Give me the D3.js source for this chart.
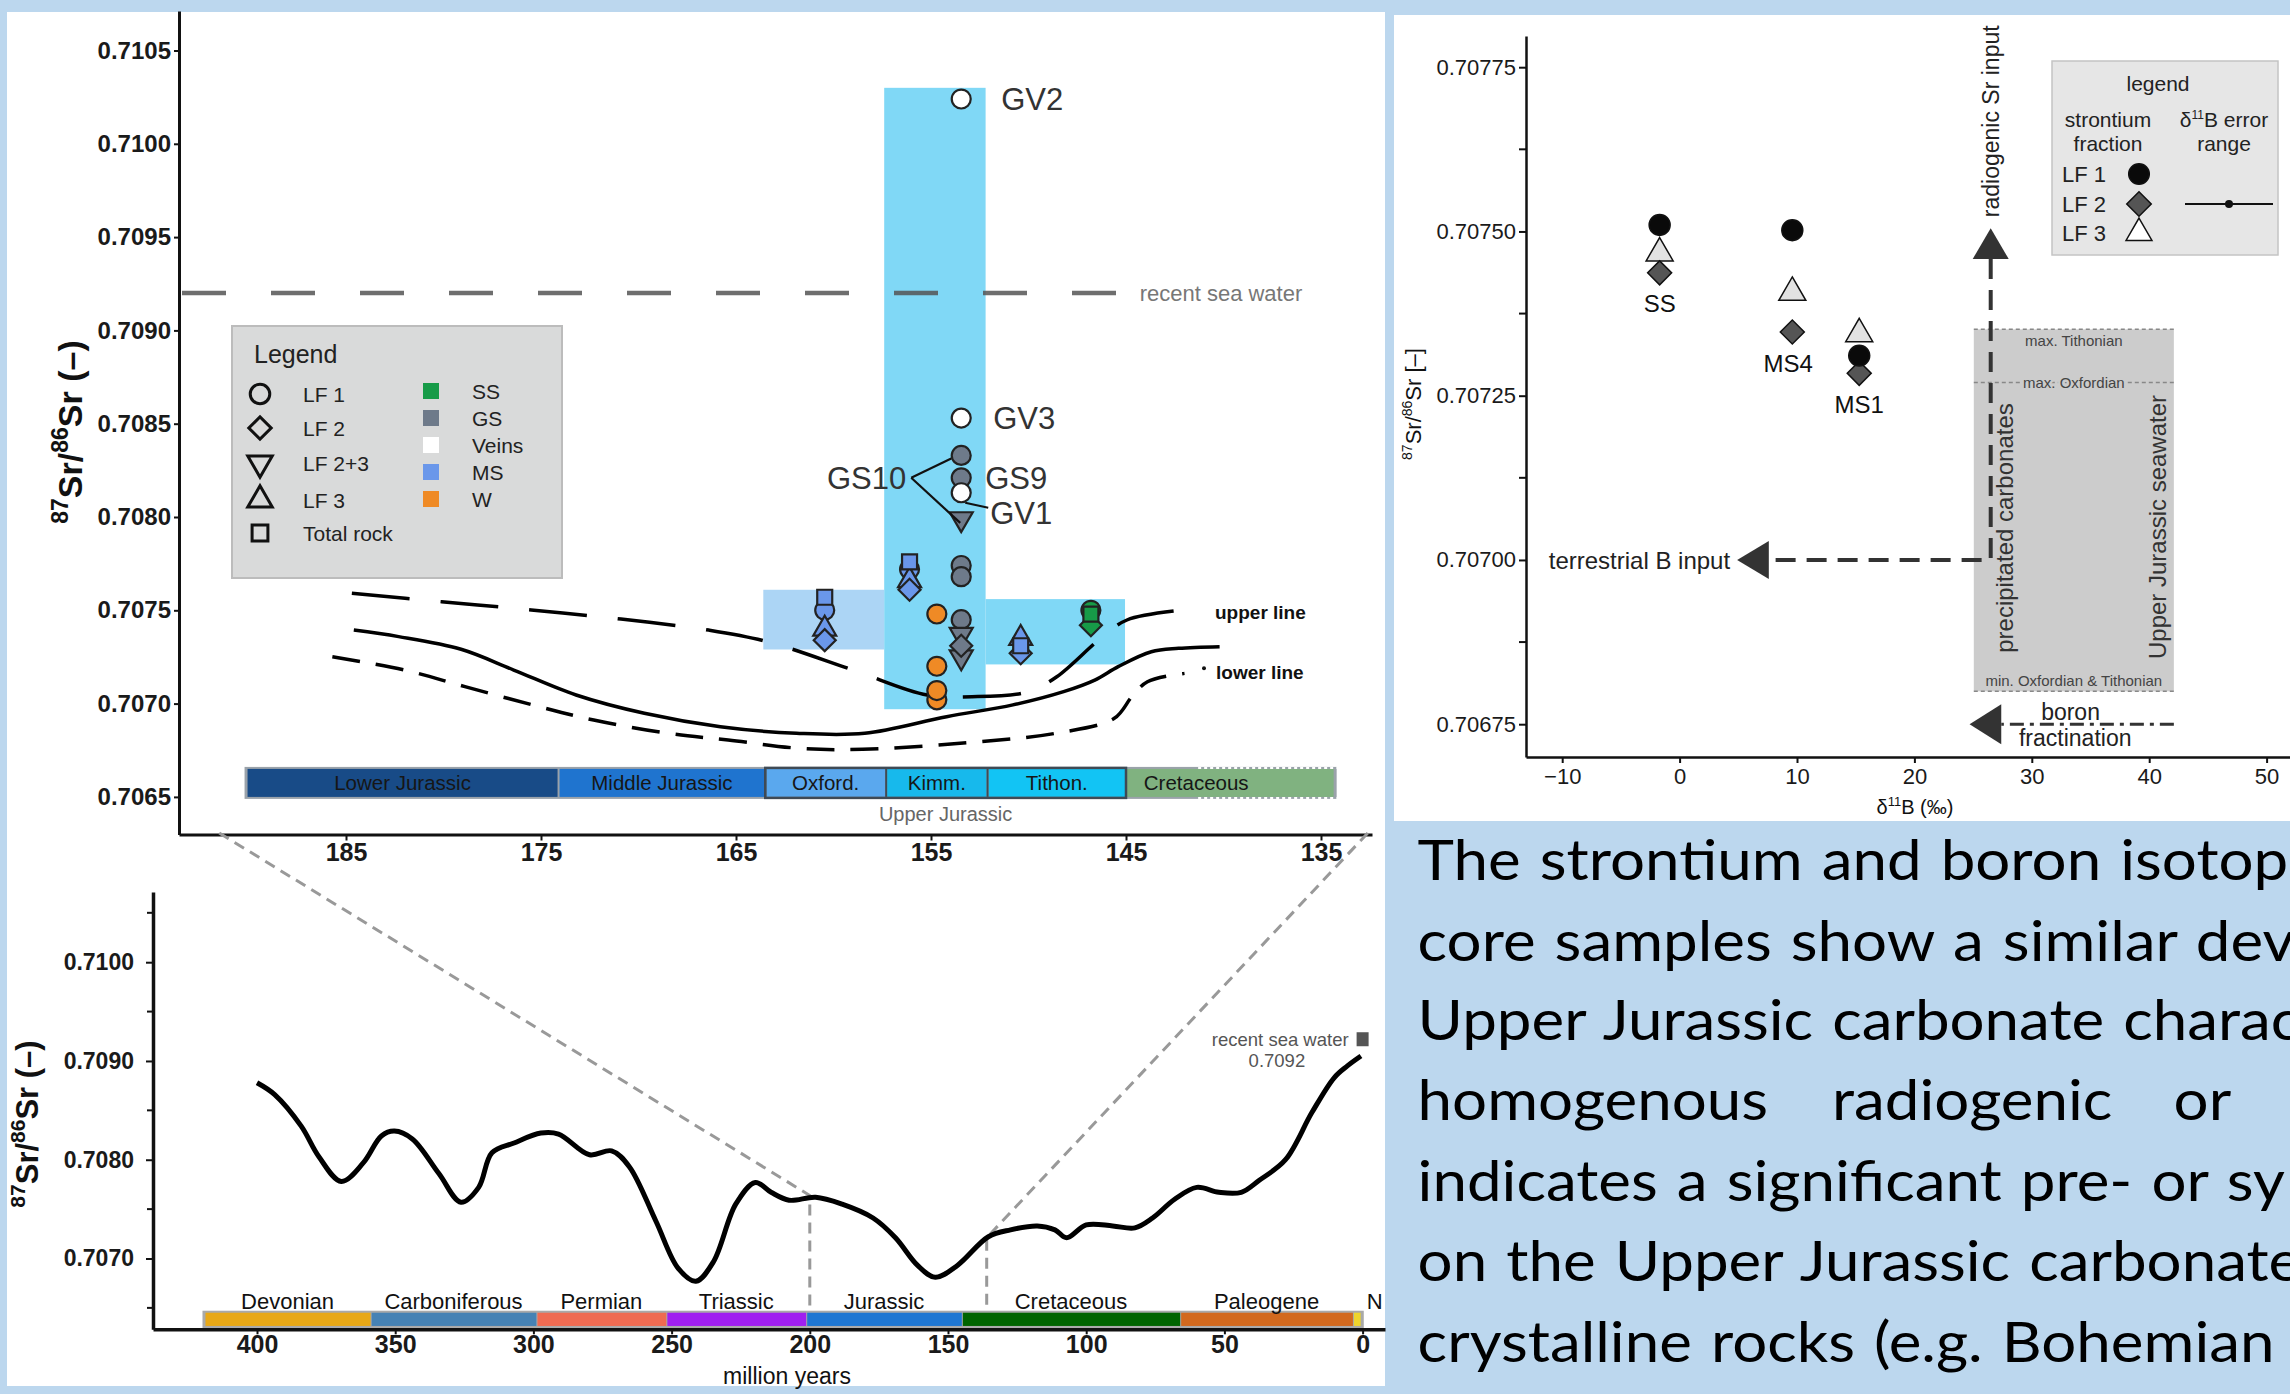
<!DOCTYPE html>
<html>
<head>
<meta charset="utf-8">
<script src="https://cdn.jsdelivr.net/npm/d3@7"></script>
<style>
  body { margin: 0; background: #bcd7ee; }
  svg text { font-family: "Liberation Sans", Arial, Helvetica, sans-serif; }
</style>
</head>
<body>
<script>
// ---------- data: top-left panel (Upper Jurassic samples) ----------
var rockTypes  = ["SS", "GS", "Veins", "MS", "W"];
var rockColors = ["#179b48", "#6e7a8a", "#ffffff", "#6a97ea", "#ef8a25"];
var fractions  = ["LF 1", "LF 2", "LF 2+3", "LF 3", "Total rock"];
var fracShapes = ["circle", "diamond", "down", "up", "square"];

var topSamples = [
  {age: 153.45, sr: 0.71024, rock: "Veins", frac: "LF 1"},
  {age: 153.45, sr: 0.70853, rock: "Veins", frac: "LF 1"},
  {age: 153.45, sr: 0.70833, rock: "GS", frac: "LF 1"},
  {age: 153.45, sr: 0.70821, rock: "GS", frac: "LF 1"},
  {age: 153.45, sr: 0.70813, rock: "Veins", frac: "LF 1"},
  {age: 153.45, sr: 0.70799, rock: "GS", frac: "LF 2+3"},
  {age: 153.45, sr: 0.70774, rock: "GS", frac: "LF 1"},
  {age: 153.45, sr: 0.70768, rock: "GS", frac: "LF 1"},
  {age: 153.45, sr: 0.70731, rock: "GS", frac: "LF 2"},
  {age: 153.45, sr: 0.70745, rock: "GS", frac: "LF 1"},
  {age: 153.45, sr: 0.70737, rock: "GS", frac: "LF 2+3"},
  {age: 153.45, sr: 0.70725, rock: "GS", frac: "LF 2+3"},
  {age: 154.7, sr: 0.70748, rock: "W", frac: "LF 1"},
  {age: 154.7, sr: 0.70720, rock: "W", frac: "LF 1"},
  {age: 154.7, sr: 0.70702, rock: "W", frac: "LF 1"},
  {age: 154.7, sr: 0.70707, rock: "W", frac: "LF 1"},
  {age: 156.1, sr: 0.70772, rock: "MS", frac: "LF 1"},
  {age: 156.1, sr: 0.70761, rock: "MS", frac: "LF 2"},
  {age: 156.1, sr: 0.70766, rock: "MS", frac: "LF 3"},
  {age: 156.1, sr: 0.70776, rock: "MS", frac: "Total rock"},
  {age: 160.45, sr: 0.70750, rock: "MS", frac: "LF 1"},
  {age: 160.45, sr: 0.70734, rock: "MS", frac: "LF 2"},
  {age: 160.45, sr: 0.70740, rock: "MS", frac: "LF 3"},
  {age: 160.45, sr: 0.70757, rock: "MS", frac: "Total rock"},
  {age: 150.4, sr: 0.70727, rock: "MS", frac: "LF 2"},
  {age: 150.4, sr: 0.70735, rock: "MS", frac: "LF 3"},
  {age: 150.4, sr: 0.70731, rock: "MS", frac: "Total rock"},
  {age: 146.8, sr: 0.70750, rock: "SS", frac: "LF 1"},
  {age: 146.8, sr: 0.70742, rock: "SS", frac: "LF 2"},
  {age: 146.8, sr: 0.70748, rock: "SS", frac: "Total rock"}
];

// stage boxes behind the samples (age range, Sr range)
var stageBoxes = [
  {from: 163.6, to: 157.4, lo: 0.70729, hi: 0.70761, color: "#acd5f5"},
  {from: 157.4, to: 152.2, lo: 0.70697, hi: 0.71030, color: "#80d8f6"},
  {from: 152.2, to: 145.05, lo: 0.70721, hi: 0.70756, color: "#80d8f6"}
];

var upperLine = [[184.7,0.707591],[180.1,0.707546],[175.5,0.707502],[170.9,0.707453],[166.4,0.707394],[163.4,0.707332],
  [159.0,0.707180],[155.2,0.707046],[152.9,0.707037],[150.0,0.707064],[148.55,0.707144],[146.3,0.707350],[144.95,0.707448],[142.0,0.707502]];
var middleLine = [[184.6,0.707394],[182.3,0.707359],[179.1,0.707291],[176.4,0.707180],[173.2,0.707046],[169.7,0.706948],
  [165.8,0.706876],[161.9,0.706841],[158.4,0.706841],[154.2,0.706930],[150.8,0.706993],[148.2,0.707064],[146.6,0.707126],
  [145.4,0.707198],[143.7,0.707278],[142.3,0.707296],[140.2,0.707305]];
var lowerLine = [[185.7,0.707251],[182.0,0.707180],[178.9,0.707091],[175.4,0.706992],[172.3,0.706912],[168.5,0.706841],
  [165.4,0.706805],[161.7,0.706760],[158.5,0.706755],[152.5,0.706796],[148.6,0.706841],[145.6,0.706921],[144.7,0.707037],
  [143.9,0.707117],[142.0,0.707162]];

var topStages = [
  {from: 190.1, to: 174.1, name: "Lower Jurassic", color: "#184b87"},
  {from: 174.1, to: 163.5, name: "Middle Jurassic", color: "#1f74cf"},
  {from: 163.5, to: 157.3, name: "Oxford.", color: "#5aa8ee"},
  {from: 157.3, to: 152.1, name: "Kimm.", color: "#17b9ec"},
  {from: 152.1, to: 145.0, name: "Tithon.", color: "#12c4f4"},
  {from: 145.0, to: 134.3, name: "Cretaceous", color: "#80b280"}
];
var topYTicks = [0.7065, 0.7070, 0.7075, 0.7080, 0.7085, 0.7090, 0.7095, 0.7100, 0.7105];
var topXTicks = [185, 175, 165, 155, 145, 135];
var seaWaterSr = 0.7092;

// ---------- data: bottom-left panel (Phanerozoic seawater curve) ----------
var srCurve = [[400,0.70878],[393.6,0.70866],[384,0.70834],[377.6,0.70803],[369.5,0.70778],[361.5,0.70797],[355,0.70824],
  [350.3,0.70829],[343.8,0.70821],[334.2,0.70786],[326.2,0.70757],[319.8,0.70772],[315,0.70807],[307,0.70817],[297.3,0.70827],
  [290.9,0.70826],[279.7,0.70805],[271.7,0.70809],[265.3,0.70793],[255.7,0.70738],[247.6,0.70690],[241.2,0.70677],
  [234.8,0.70697],[226.8,0.70755],[219.7,0.70777],[214,0.70767],[207.5,0.70759],[197.9,0.70762],[188.3,0.70755],
  [177.1,0.70741],[169,0.70721],[161,0.70693],[154.6,0.70681],[146.6,0.70693],[135.4,0.70722],[127.4,0.70729],
  [117.7,0.70733],[111.3,0.70729],[107.1,0.70721],[100,0.70734],[90.4,0.70733],[82.4,0.70731],[76,0.70741],[68,0.70760],
  [60,0.70772],[52,0.70767],[43.9,0.70767],[37.5,0.70779],[27.9,0.70800],[18.3,0.70848],[10.3,0.70883],[5.5,0.70895],[0.6,0.70905]];
var periods = [
  {from: 419, to: 358.9, name: "Devonian", color: "#e8a817"},
  {from: 358.9, to: 298.9, name: "Carboniferous", color: "#4682b4"},
  {from: 298.9, to: 251.9, name: "Permian", color: "#ef6b52"},
  {from: 251.9, to: 201.3, name: "Triassic", color: "#a020f0"},
  {from: 201.3, to: 145, name: "Jurassic", color: "#1e76d2"},
  {from: 145, to: 66, name: "Cretaceous", color: "#006400"},
  {from: 66, to: 3.5, name: "Paleogene", color: "#d2691e"},
  {from: 3.5, to: 0.7, name: "N", color: "#eed42c"}
];
var bottomYTicks = [0.7070, 0.7080, 0.7090, 0.7100];
var bottomYMinor = [0.7065, 0.7075, 0.7085, 0.7095, 0.7105];
var bottomXTicks = [400, 350, 300, 250, 200, 150, 100, 50, 0];
var zoomAnchors = [{age: 200, sr: 0.707638, topAge: 191.5}, {age: 136, sr: 0.70721, topAge: 132.6}];

// ---------- data: right panel (d11B vs Sr) ----------
var sampleNames = ["SS", "MS4", "MS1"];
var sampleB     = [-1.7, 9.6, 15.3];
var srLF1       = [0.707510, 0.707502, 0.707311];
var srLF2       = [0.707437, 0.707347, 0.707284];
var srLF3       = [0.707467, 0.707407, 0.707344];
var rightYTicks = [0.70675, 0.70700, 0.70725, 0.70750, 0.70775];
var rightYMinor = [0.706875, 0.707125, 0.707375, 0.707625];
var rightXTicks = [-10, 0, 10, 20, 30, 40, 50];
var seawaterBox = {b0: 25.06, b1: 42.1, lo: 0.70680, hi: 0.707351, oxf: 0.70727};
var arrowSr = {b: 26.5, from: 0.70700, to: 0.707458, tip: 0.707505};
var arrowB  = {sr: 0.70700, from: 26.5, to: 7.6, tip: 4.9};
var arrowBoron = {sr: 0.70675, from: 42.1, to: 27.4, tip: 24.7};

// visible part of the note text (it runs past the right edge)
var noteLines = [
  "The strontium and boron isotop",
  "core samples show a similar dev",
  "Upper Jurassic carbonate charac",
  ["homogenous", "radiogenic", "or"],
  "indicates a significant pre- or sy",
  "on the Upper Jurassic carbonate",
  "crystalline rocks (e.g. Bohemian"
];

// ---------- page ----------
var W = 2290, H = 1394;
var svg = d3.select("body").append("svg").attr("width", W).attr("height", H);
svg.append("rect").attr("width", W).attr("height", H).attr("fill", "#bcd7ee");
svg.append("rect").attr("x", 7).attr("y", 12).attr("width", 1378).attr("height", 1374).attr("fill", "#fff");
svg.append("rect").attr("x", 1394).attr("y", 15).attr("width", 896).attr("height", 806).attr("fill", "#fff");

var shapeOf = function(f) { return fracShapes[fractions.indexOf(f)]; };
var colorOf = function(r) { return rockColors[rockTypes.indexOf(r)]; };

function symPath(shape, size) {
  var type = {circle: d3.symbolCircle, square: d3.symbolSquare, up: d3.symbolTriangle,
              down: d3.symbolTriangle, diamond: d3.symbolSquare}[shape];
  return d3.symbol().type(type).size(size)();
}
function symRot(shape) {
  return shape === "down" ? " rotate(180)" : shape === "diamond" ? " rotate(45)" : "";
}

function srTitle(x, y, size, weight, tail, supRatio) {
  var t = svg.append("text").attr("transform", "translate(" + x + "," + y + ") rotate(-90)")
    .attr("text-anchor", "middle").style("font-size", size + "px").style("font-weight", weight).attr("fill", "#111");
  var s = Math.round(size * supRatio), up = size * 0.42;
  t.append("tspan").text("87").style("font-size", s + "px").attr("dy", -up);
  t.append("tspan").text("Sr/").attr("dy", up);
  t.append("tspan").text("86").style("font-size", s + "px").attr("dy", -up);
  t.append("tspan").text("Sr" + tail).attr("dy", up);
}

function styleAxis(g, width, font, weight) {
  g.select(".domain").attr("stroke", "#111").attr("stroke-width", width);
  g.selectAll(".tick line").attr("stroke", "#111").attr("stroke-width", 2);
  g.selectAll(".tick text").attr("fill", "#1a1a1a").style("font-size", font + "px").style("font-weight", weight);
}

// =================== TOP-LEFT PANEL ===================
var xT = d3.scaleLinear().domain([185, 135]).range([346, 1321]);
xT.domain([xT.invert(179), xT.invert(1372)]).range([179, 1372]);
var yT = d3.scaleLinear().domain([0.7065, 0.7105]).range([796.9, 50.5]);
yT.domain([yT.invert(834.5), yT.invert(11)]).range([834.5, 11]);

var gTop = svg.append("g");

gTop.selectAll(".stagebox").data(stageBoxes).enter().append("rect")
  .attr("x", function(d) { return xT(d.from); })
  .attr("width", function(d) { return xT(d.to) - xT(d.from); })
  .attr("y", function(d) { return yT(d.hi); })
  .attr("height", function(d) { return yT(d.lo) - yT(d.hi); })
  .attr("fill", function(d) { return d.color; });

// stratigraphic bar
var barTop = yT(0.70665), barBot = yT(0.7065);
gTop.append("rect").attr("x", xT(190.1) - 2).attr("y", barTop - 2)
  .attr("width", xT(134.3) - xT(190.1) + 4).attr("height", barBot - barTop + 4).attr("fill", "#9aa2aa");
gTop.selectAll(".stage").data(topStages).enter().append("rect")
  .attr("x", function(d) { return xT(d.from) + 1; })
  .attr("width", function(d) { return xT(d.to) - xT(d.from) - 2; })
  .attr("y", barTop).attr("height", barBot - barTop)
  .attr("fill", function(d) { return d.color; });
gTop.append("rect").attr("x", xT(163.5)).attr("y", barTop - 1)
  .attr("width", xT(145) - xT(163.5)).attr("height", barBot - barTop + 2)
  .attr("fill", "none").attr("stroke", "#3f4a55").attr("stroke-width", 2.5);
gTop.selectAll(".stagegap").data([163.5, 157.3, 152.1, 145]).enter().append("line")
  .attr("x1", function(d) { return xT(d); }).attr("x2", function(d) { return xT(d); })
  .attr("y1", barTop).attr("y2", barBot).attr("stroke", "#3f4a55").attr("stroke-width", 2);
gTop.selectAll(".dotedge").data([barTop - 1, barBot + 1]).enter().append("line")
  .attr("x1", xT(141.3)).attr("x2", xT(134.3) + 2).attr("y1", function(d) { return d; }).attr("y2", function(d) { return d; })
  .attr("stroke", "#fff").attr("stroke-width", 2).attr("stroke-dasharray", "3,3");
gTop.selectAll(".stagelabel").data(topStages).enter().append("text")
  .attr("x", function(d) { return d.name === "Cretaceous" ? xT(141.4) : xT((d.from + d.to) / 2); })
  .attr("y", (barTop + barBot) / 2).attr("dy", "0.36em").attr("text-anchor", "middle")
  .style("font-size", "20.5px").attr("fill", "#161616")
  .text(function(d) { return d.name; });
gTop.append("text").attr("x", xT(154.25)).attr("y", barBot + 17).attr("dy", "0.36em").attr("text-anchor", "middle")
  .style("font-size", "20px").attr("fill", "#666").text("Upper Jurassic");

// recent sea water line
gTop.append("line").attr("x1", xT.range()[0] + 3).attr("x2", xT(144.9))
  .attr("y1", yT(seaWaterSr)).attr("y2", yT(seaWaterSr))
  .attr("stroke", "#555").attr("stroke-opacity", 0.85).attr("stroke-width", 4.5).attr("stroke-dasharray", "44,45");
gTop.append("text").attr("x", xT(144.3)).attr("y", yT(seaWaterSr)).attr("dy", "0.36em")
  .style("font-size", "22px").attr("fill", "#777").text("recent sea water");

// trend lines
var lineT = d3.line().x(function(d) { return xT(d[0]); }).y(function(d) { return yT(d[1]); })
  .curve(d3.curveCatmullRom.alpha(0.5));
gTop.append("path").attr("d", lineT(upperLine)).attr("fill", "none").attr("stroke", "#000")
  .attr("stroke-width", 3.5).attr("stroke-dasharray", "58,31");
gTop.append("path").attr("d", lineT(middleLine)).attr("fill", "none").attr("stroke", "#000").attr("stroke-width", 3.5);
gTop.append("path").attr("d", lineT(lowerLine)).attr("fill", "none").attr("stroke", "#000")
  .attr("stroke-width", 3.5).attr("stroke-dasharray", "28,16");
gTop.append("text").attr("x", 1215).attr("y", yT(0.70749)).attr("dy", "0.36em")
  .style("font-size", "19px").style("font-weight", "bold").attr("fill", "#111").text("upper line");
gTop.append("circle").attr("cx", 1204).attr("cy", yT(0.70719)).attr("r", 2).attr("fill", "#111");
gTop.append("text").attr("x", 1216).attr("y", yT(0.70717)).attr("dy", "0.36em")
  .style("font-size", "19px").style("font-weight", "bold").attr("fill", "#111").text("lower line");

// legend
var lg = gTop.append("g");
lg.append("rect").attr("x", 232).attr("y", 326).attr("width", 330).attr("height", 252)
  .attr("fill", "#d9dada").attr("stroke", "#bcbcbc").attr("stroke-width", 2);
lg.append("text").attr("x", 254).attr("y", 363).style("font-size", "25px").attr("fill", "#222").text("Legend");
var fracRows = [394, 428, 463, 500, 533];
fractions.forEach(function(f, i) {
  var s = fracShapes[i];
  lg.append("path").attr("d", symPath(s, s === "square" ? 250 : s === "circle" ? 300 : s === "diamond" ? 250 : 260))
    .attr("transform", "translate(260," + fracRows[i] + ")" + symRot(s))
    .attr("fill", "none").attr("stroke", "#111").attr("stroke-width", 3);
  lg.append("text").attr("x", 303).attr("y", fracRows[i]).attr("dy", "0.36em")
    .style("font-size", "21px").attr("fill", "#222").text(f);
});
var rockRows = [391, 418, 445, 472, 499];
rockTypes.forEach(function(r, i) {
  lg.append("rect").attr("x", 423).attr("y", rockRows[i] - 8).attr("width", 16).attr("height", 16)
    .attr("fill", rockColors[i]);
  lg.append("text").attr("x", 472).attr("y", rockRows[i]).attr("dy", "0.36em")
    .style("font-size", "21px").attr("fill", "#222").text(r);
});

// axes
var gyT = gTop.append("g").attr("transform", "translate(179,0)")
  .call(d3.axisLeft(yT).tickValues(topYTicks).tickFormat(d3.format(".4f")).tickSize(5).tickSizeOuter(0).tickPadding(3));
styleAxis(gyT, 3, 24, "bold");
var gxT = gTop.append("g").attr("transform", "translate(0,834.5)")
  .call(d3.axisBottom(xT).tickValues(topXTicks).tickFormat(d3.format("d")).tickSize(6).tickSizeOuter(0).tickPadding(3));
styleAxis(gxT, 3, 25, "bold");
srTitle(82, 432, 34, "bold", " (\u2013)", 0.68);

// samples
var order = {"circle": 0, "up": 1, "down": 2, "diamond": 3, "square": 4};
var topSorted = topSamples.slice().sort(function(a, b) { return order[shapeOf(a.frac)] - order[shapeOf(b.frac)]; });
gTop.selectAll(".sample").data(topSorted).enter().append("path")
  .attr("d", function(d) {
    var s = shapeOf(d.frac);
    return symPath(s, s === "circle" ? 283 : s === "square" ? 225 : s === "diamond" ? 242 : 229);
  })
  .attr("transform", function(d) { return "translate(" + xT(d.age) + "," + yT(d.sr) + ")" + symRot(shapeOf(d.frac)); })
  .attr("fill", function(d) { return colorOf(d.rock); })
  .attr("stroke", "#222").attr("stroke-width", 2.2);

// sample labels
var gx = xT(153.45);
var labStyle = function(t) { return t.style("font-size", "31px").attr("fill", "#333"); };
labStyle(gTop.append("text").attr("x", gx + 40).attr("y", yT(0.71024)).attr("dy", "0.36em").text("GV2"));
labStyle(gTop.append("text").attr("x", gx + 32).attr("y", yT(0.70853)).attr("dy", "0.36em").text("GV3"));
labStyle(gTop.append("text").attr("x", gx + 24).attr("y", yT(0.70821)).attr("dy", "0.36em").text("GS9"));
labStyle(gTop.append("text").attr("x", gx + 29).attr("y", yT(0.70813) + 20).attr("dy", "0.36em").text("GV1"));
labStyle(gTop.append("text").attr("x", gx - 55).attr("y", yT(0.70821)).attr("dy", "0.36em").attr("text-anchor", "end").text("GS10"));
var leaders = [
  [[gx - 50, yT(0.70821)], [gx - 10, yT(0.70833) + 3]],
  [[gx - 50, yT(0.70821)], [gx - 1, yT(0.70799) + 4]],
  [[gx + 4, yT(0.70813) + 10], [gx + 27, yT(0.70813) + 15]]
];
gTop.selectAll(".leader").data(leaders).enter().append("path")
  .attr("d", function(d) { return d3.line()(d); }).attr("fill", "none").attr("stroke", "#111").attr("stroke-width", 2.2);

// =================== BOTTOM-LEFT PANEL ===================
var xB = d3.scaleLinear().domain([400, 0]).range([257, 1362.6]);
xB.domain([xB.invert(153), xB.invert(1385)]).range([153, 1385]);
var yB = d3.scaleLinear().domain([0.7070, 0.7100]).range([1258.5, 962.2]);
yB.domain([yB.invert(1329.3), yB.invert(892)]).range([1329.3, 892]);

var gBot = svg.append("g");

// zoom connector lines
zoomAnchors.forEach(function(a) {
  gBot.append("path")
    .attr("d", d3.line()([[xT(a.topAge), 833], [xB(a.age), yB(a.sr)], [xB(a.age), yB(0.706451)]]))
    .attr("fill", "none").attr("stroke", "#999").attr("stroke-width", 3).attr("stroke-dasharray", "11,7");
});

// period bar
var pTop = yB(0.706451), pBot = yB(0.706317);
gBot.append("rect").attr("x", xB(419) - 2).attr("y", pTop - 2).attr("width", xB(0.3) - xB(419) + 4)
  .attr("height", pBot - pTop + 4).attr("fill", "#a9a9a9");
gBot.selectAll(".period").data(periods).enter().append("rect")
  .attr("x", function(d) { return xB(d.from) + 1; })
  .attr("width", function(d) { return xB(d.to) - xB(d.from) - 1; })
  .attr("y", pTop).attr("height", pBot - pTop)
  .attr("fill", function(d) { return d.color; });
gBot.selectAll(".plabel").data(periods).enter().append("text")
  .attr("x", function(d) { return d.name === "N" ? xB(d.to) + 6 : xB((d.from + d.to) / 2); })
  .attr("y", pTop - 4).attr("text-anchor", function(d) { return d.name === "N" ? "start" : "middle"; })
  .style("font-size", "22px").attr("fill", "#111")
  .text(function(d) { return d.name; });

var lineB = d3.line().x(function(d) { return xB(d[0]); }).y(function(d) { return yB(d[1]); })
  .curve(d3.curveCatmullRom.alpha(0.5));
gBot.append("path").attr("d", lineB(srCurve)).attr("fill", "none").attr("stroke", "#000")
  .attr("stroke-width", 5).attr("stroke-linejoin", "round");

// recent sea water marker
gBot.append("rect").attr("x", xB(0) - 6).attr("y", yB(0.70922) - 7).attr("width", 12).attr("height", 14).attr("fill", "#555");
gBot.append("text").attr("x", xB(0) - 14).attr("y", yB(0.70922)).attr("dy", "0.36em").attr("text-anchor", "end")
  .style("font-size", "18.5px").attr("fill", "#555").text("recent sea water");
gBot.append("text").attr("x", xB(31)).attr("y", yB(0.70901)).attr("dy", "0.36em").attr("text-anchor", "middle")
  .style("font-size", "18.5px").attr("fill", "#555").text("0.7092");

var gyB = gBot.append("g").attr("transform", "translate(153,0)")
  .call(d3.axisLeft(yB).tickValues(bottomYTicks).tickFormat(d3.format(".4f")).tickSize(7).tickSizeOuter(0).tickPadding(12));
styleAxis(gyB, 3.5, 23, "bold");
gBot.selectAll(".minor").data(bottomYMinor).enter().append("line")
  .attr("x1", 147).attr("x2", 153).attr("y1", function(d) { return yB(d); }).attr("y2", function(d) { return yB(d); })
  .attr("stroke", "#111").attr("stroke-width", 2);
var gxB = gBot.append("g").attr("transform", "translate(0,1329.3)")
  .call(d3.axisBottom(xB).tickValues(bottomXTicks).tickFormat(d3.format("d")).tickSize(5).tickSizeOuter(0).tickPadding(1));
styleAxis(gxB, 3.5, 25, "bold");
gBot.append("text").attr("x", 787).attr("y", 1376).attr("dy", "0.36em").attr("text-anchor", "middle")
  .style("font-size", "23px").attr("fill", "#111").text("million years");
srTitle(38, 1124, 31, "bold", " (\u2013)", 0.68);

// =================== RIGHT PANEL ===================
var xR = d3.scaleLinear().domain([-10, 50]).range([1562.2, 2266.6]);
xR.domain([xR.invert(1526), xR.invert(2300)]).range([1526, 2300]);
var yR = d3.scaleLinear().domain([0.70675, 0.70775]).range([724.2, 67.2]);
yR.domain([yR.invert(757), yR.invert(36)]).range([757, 36]);

var rp = svg.append("g");

// Upper Jurassic seawater box
rp.append("rect").attr("x", xR(seawaterBox.b0)).attr("y", yR(seawaterBox.hi))
  .attr("width", xR(seawaterBox.b1) - xR(seawaterBox.b0)).attr("height", yR(seawaterBox.lo) - yR(seawaterBox.hi))
  .attr("fill", "#cccccc");
rp.selectAll(".boxline").data([seawaterBox.hi, seawaterBox.oxf, seawaterBox.lo]).enter().append("line")
  .attr("x1", xR(seawaterBox.b0)).attr("x2", xR(seawaterBox.b1))
  .attr("y1", function(d) { return yR(d); }).attr("y2", function(d) { return yR(d); })
  .attr("stroke", "#888").attr("stroke-width", 1.5).attr("stroke-dasharray", "4,3");
var boxMid = (seawaterBox.b0 + seawaterBox.b1) / 2;
[["max. Tithonian", yR(seawaterBox.hi) + 11], ["max. Oxfordian", yR(seawaterBox.oxf)], ["min. Oxfordian & Tithonian", yR(seawaterBox.lo) - 11]]
  .forEach(function(t) {
    rp.append("text").attr("x", xR(boxMid)).attr("y", t[1]).attr("dy", "0.36em").attr("text-anchor", "middle")
      .style("font-size", "15px").attr("fill", "#444")
      .attr("stroke", "#cccccc").attr("stroke-width", 5).attr("paint-order", "stroke").text(t[0]);
  });
rp.append("text").attr("transform", "translate(2013,528) rotate(-90)").attr("text-anchor", "middle")
  .style("font-size", "24px").attr("fill", "#333").text("precipitated carbonates");
rp.append("text").attr("transform", "translate(2166,527) rotate(-90)").attr("text-anchor", "middle")
  .style("font-size", "24px").attr("fill", "#333").text("Upper Jurassic seawater");

// arrows
var dark = "#333";
rp.append("path").attr("d", d3.line()([[xR(arrowSr.b), yR(arrowSr.to)], [xR(arrowSr.b), yR(arrowSr.from)], [xR(arrowB.to), yR(arrowB.sr)]]))
  .attr("fill", "none").attr("stroke", dark).attr("stroke-width", 4).attr("stroke-dasharray", "20,11");
rp.append("path").attr("d", d3.line()([[xR(arrowSr.b), yR(arrowSr.tip)], [xR(arrowSr.b) - 18, yR(arrowSr.to)], [xR(arrowSr.b) + 18, yR(arrowSr.to)]]) + "Z")
  .attr("fill", dark);
rp.append("path").attr("d", d3.line()([[xR(arrowB.tip), yR(arrowB.sr)], [xR(arrowB.to), yR(arrowB.sr) - 19], [xR(arrowB.to), yR(arrowB.sr) + 19]]) + "Z")
  .attr("fill", dark);
rp.append("path").attr("d", d3.line()([[xR(arrowBoron.from), yR(arrowBoron.sr)], [xR(arrowBoron.to), yR(arrowBoron.sr)]]))
  .attr("stroke", dark).attr("stroke-width", 3).attr("stroke-dasharray", "14,6,4,6");
rp.append("path").attr("d", d3.line()([[xR(arrowBoron.tip), yR(arrowBoron.sr)], [xR(arrowBoron.to), yR(arrowBoron.sr) - 20], [xR(arrowBoron.to), yR(arrowBoron.sr) + 20]]) + "Z")
  .attr("fill", dark);
rp.append("text").attr("transform", "translate(" + (xR(arrowSr.b) + 8) + "," + (yR(arrowSr.tip) - 11) + ") rotate(-90)")
  .style("font-size", "23px").attr("fill", "#222").text("radiogenic Sr input");
rp.append("text").attr("x", xR(arrowB.tip) - 7).attr("y", yR(arrowB.sr)).attr("dy", "0.36em").attr("text-anchor", "end")
  .style("font-size", "24px").attr("fill", "#222").text("terrestrial B input");
rp.append("text").attr("x", xR(33.3)).attr("y", yR(arrowBoron.sr) - 12).attr("dy", "0.36em").attr("text-anchor", "middle")
  .style("font-size", "23px").attr("fill", "#222").text("boron");
rp.append("text").attr("x", xR(33.7)).attr("y", yR(arrowBoron.sr) + 14).attr("dy", "0.36em").attr("text-anchor", "middle")
  .style("font-size", "23px").attr("fill", "#222").text("fractination");

// axes
var gyR = rp.append("g").attr("transform", "translate(1526,0)")
  .call(d3.axisLeft(yR).tickValues(rightYTicks).tickFormat(d3.format(".5f")).tickSize(7).tickSizeOuter(0).tickPadding(3));
styleAxis(gyR, 2.5, 22, "normal");
rp.selectAll(".rminor").data(rightYMinor).enter().append("line")
  .attr("x1", 1519).attr("x2", 1526).attr("y1", function(d) { return yR(d); }).attr("y2", function(d) { return yR(d); })
  .attr("stroke", "#111").attr("stroke-width", 2);
var gxR = rp.append("g").attr("transform", "translate(0,757)")
  .call(d3.axisBottom(xR).tickValues(rightXTicks).tickFormat(d3.format("d")).tickSize(6).tickSizeOuter(0).tickPadding(5));
styleAxis(gxR, 2.5, 22, "normal");
srTitle(1421, 404, 22, "normal", " [\u2013]", 0.62);
var xl = rp.append("text").attr("x", 1915).attr("y", 814).attr("text-anchor", "middle")
  .style("font-size", "20px").attr("fill", "#111");
xl.append("tspan").text("\u03b4");
xl.append("tspan").text("11").style("font-size", "13px").attr("dy", -8);
xl.append("tspan").text("B (\u2030)").attr("dy", 8);

// samples
var rightSeries = [
  {sr: srLF3, shape: "up", size: 316, fill: "#e2e2e2"},
  {sr: srLF2, shape: "diamond", size: 288, fill: "#555"},
  {sr: srLF1, shape: "circle", size: 346, fill: "#0a0a0a"}
];
rightSeries.forEach(function(s) {
  rp.selectAll(null).data(sampleB).enter().append("path")
    .attr("d", symPath(s.shape, s.size))
    .attr("transform", function(b, i) { return "translate(" + xR(b) + "," + yR(s.sr[i]) + ")" + symRot(s.shape); })
    .attr("fill", s.fill).attr("stroke", "#111").attr("stroke-width", 1.5);
});
rp.selectAll(".rlabel").data(sampleNames).enter().append("text")
  .attr("x", function(d, i) { return xR(sampleB[i]) - (i === 1 ? 4 : 0); })
  .attr("y", function(d, i) { return yR(srLF2[i]) + 31; }).attr("dy", "0.36em").attr("text-anchor", "middle")
  .style("font-size", "24px").attr("fill", "#111").text(function(d) { return d; });

// legend (right)
var rl = rp.append("g");
rl.append("rect").attr("x", 2052).attr("y", 61).attr("width", 226).attr("height", 194)
  .attr("fill", "#e6e6e6").attr("stroke", "#c4c4c4").attr("stroke-width", 1.5);
var rlText = function(x, y, t) {
  return rl.append("text").attr("x", x).attr("y", y).attr("dy", "0.36em").attr("text-anchor", "middle")
    .style("font-size", "21px").attr("fill", "#222").text(t);
};
rlText(2158, 83, "legend");
rlText(2108, 119, "strontium");
rlText(2108, 143, "fraction");
var eb = rl.append("text").attr("x", 2224).attr("y", 119).attr("dy", "0.36em").attr("text-anchor", "middle")
  .style("font-size", "21px").attr("fill", "#222");
eb.append("tspan").text("\u03b4");
eb.append("tspan").text("11").style("font-size", "12px").attr("dy", -8);
eb.append("tspan").text("B error").attr("dy", 8);
rlText(2224, 143, "range");
var legRows = [174, 204, 233];
["LF 1", "LF 2", "LF 3"].forEach(function(t, i) {
  rl.append("text").attr("x", 2062).attr("y", legRows[i]).attr("dy", "0.36em")
    .style("font-size", "22px").attr("fill", "#222").text(t);
  var s = rightSeries[2 - i];
  rl.append("path").attr("d", symPath(s.shape, s.shape === "up" ? 290 : s.shape === "diamond" ? 300 : 333))
    .attr("transform", "translate(2139," + legRows[i] + ")" + symRot(s.shape))
    .attr("fill", s.shape === "up" ? "#fff" : s.fill).attr("stroke", "#111").attr("stroke-width", 1.5);
});
rl.append("line").attr("x1", 2185).attr("x2", 2273).attr("y1", 204).attr("y2", 204).attr("stroke", "#111").attr("stroke-width", 2);
rl.append("circle").attr("cx", 2229).attr("cy", 204).attr("r", 4).attr("fill", "#111");

// =================== TEXT PANEL ===================
var notes = svg.append("g");
var baselines = [880, 961, 1040, 1120, 1201, 1281, 1362];
var wordX = [1417.6, 1832, 2173.6];
var stretch = 1.085;
noteLines.forEach(function(line, i) {
  var words = Array.isArray(line) ? line : [line];
  words.forEach(function(w, j) {
    var x0 = Array.isArray(line) ? wordX[j] : 1417.6;
    notes.append("text").attr("transform", "translate(" + x0 + "," + baselines[i] + ") scale(" + stretch + ",1)")
      .style("font-size", "57px").style("font-family", "Lato, 'Open Sans', sans-serif")
      .style("word-spacing", "3px").attr("fill", "#000").text(w);
  });
});
</script>
</body>
</html>
